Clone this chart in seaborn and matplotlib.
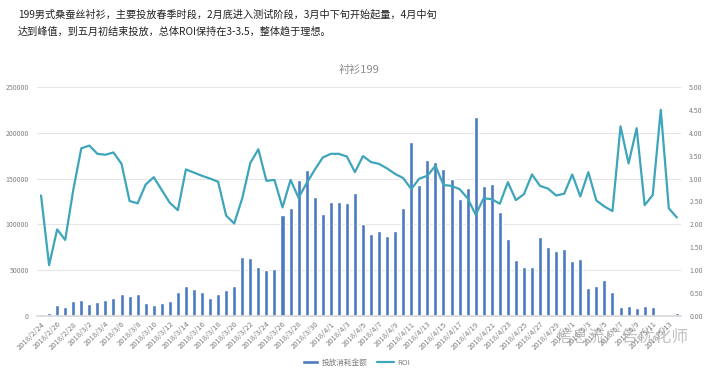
import numpy as np
import pandas as pd
import matplotlib
matplotlib.use('Agg')
import matplotlib.pyplot as plt
import seaborn as sns
from matplotlib.ticker import FuncFormatter

# 数据：2018/2/24 ~ 2018/5/14 每日投放消耗与ROI
dates = pd.date_range('2018-02-24', '2018-05-14', freq='D')
date_labels = [f'{d.year}/{d.month}/{d.day}' for d in dates]

spend = [2200, 3600, 11600, 9500, 16700, 17500, 13500, 15300, 17500, 20000,
         24000, 21500, 23700, 14600, 12400, 14200, 16400, 25800, 32800, 29800,
         26200, 20000, 24000, 28700, 33100, 64400, 63700, 53100, 49900, 51700,
         110300, 117500, 148500, 159400, 130300, 111000, 124500, 124500, 123000, 134600,
         100100, 89500, 92800, 87000, 92800, 118300, 190300, 142600, 170700, 168500,
         160500, 149600, 127400, 139700, 216900, 141600, 144100, 113900, 83700, 60800,
         53500, 53500, 86200, 75700, 70600, 73100, 60400, 61900, 30900, 33100,
         38900, 26600, 10200, 10600, 8700, 10600, 10200, 2200, 1800, 2900]

roi = [2.63, 1.11, 1.89, 1.66, 2.75, 3.66, 3.72, 3.54, 3.52, 3.57,
       3.32, 2.51, 2.46, 2.87, 3.03, 2.75, 2.47, 2.31, 3.20, 3.13,
       3.06, 3.00, 2.93, 2.19, 2.02, 2.57, 3.34, 3.64, 2.95, 2.97,
       2.37, 2.97, 2.58, 2.90, 3.19, 3.46, 3.54, 3.54, 3.48, 3.14,
       3.49, 3.36, 3.32, 3.22, 3.10, 3.01, 2.77, 3.00, 3.06, 3.28,
       2.86, 2.84, 2.77, 2.57, 2.21, 2.57, 2.55, 2.45, 2.92, 2.53,
       2.66, 3.09, 2.84, 2.78, 2.63, 2.67, 3.09, 2.61, 3.14, 2.52,
       2.39, 2.29, 4.14, 3.33, 4.10, 2.42, 2.64, 4.50, 2.35, 2.15]

df = pd.DataFrame({'日期': date_labels, '投放消耗金额': spend, 'ROI': roi})
df['idx'] = np.arange(len(df))

sns.set_theme(style='white')
plt.rcParams['font.family'] = ['Noto Sans CJK SC', 'DejaVu Sans']

fig = plt.figure(figsize=(7.19, 3.70), dpi=100)
ax = fig.add_axes([0.0515, 0.146, 0.8955, 0.619])

sns.barplot(data=df, x='idx', y='投放消耗金额', color='#4a7bbf', width=0.5,
            saturation=1, ax=ax, label='投放消耗金额')
ax.set_ylim(0, 250000)
ax.set_yticks(np.arange(0, 250001, 50000))
ax.yaxis.grid(True, color='#e6e6e6', linewidth=0.8)
ax.set_axisbelow(True)
ax.set_xlabel('')
ax.set_ylabel('')
ax.set_xticks(df['idx'][::2])
ax.set_xticklabels(df['日期'][::2], rotation=45, ha='right', rotation_mode='anchor')
ax.tick_params(axis='x', labelsize=5.5, colors='#7f7f7f', length=0, pad=3)
ax.tick_params(axis='y', labelsize=5, colors='#7f7f7f', length=0, pad=6)
ax.set_xlim(-0.5, len(df) - 0.5)
for s in ['top', 'right', 'left']:
    ax.spines[s].set_visible(False)
ax.spines['bottom'].set_color('#d9d9d9')

ax2 = ax.twinx()
sns.lineplot(data=df, x='idx', y='ROI', color='#3ea5bb', linewidth=1.6, ax=ax2, label='ROI')
ax2.set_ylim(0, 5)
ax2.set_yticks(np.arange(0, 5.01, 0.5))
ax2.yaxis.set_major_formatter(FuncFormatter(lambda v, p: f'{v:.2f}'))
ax2.tick_params(axis='y', labelsize=5, colors='#7f7f7f', length=0, pad=6)
ax2.set_ylabel('')
ax2.set_xlim(-0.5, len(df) - 0.5)
for s in ax2.spines.values():
    s.set_visible(False)

# 图例放到底部
h1, l1 = ax.get_legend_handles_labels()
h2, l2 = ax2.get_legend_handles_labels()
if ax.get_legend():
    ax.get_legend().remove()
if ax2.get_legend():
    ax2.get_legend().remove()
fig.legend(h1 + h2, l1 + l2, loc='center', bbox_to_anchor=(0.495, 0.02), ncol=2,
           frameon=False, fontsize=5.5, labelcolor='#7f7f7f',
           handlelength=2.2, handleheight=0.4, handletextpad=0.4, columnspacing=1.2)

fig.text(0.5, 0.81, '衬衫199', ha='center', va='center', fontsize=8, color='#8c8c8c')
fig.text(0.025, 0.962,
         '199男式桑蚕丝衬衫，主要投放春季时段，2月底进入测试阶段，3月中下旬开始起量，4月中旬',
         ha='left', va='center', fontsize=7.3, color='#222222')
fig.text(0.025, 0.913, '达到峰值，到五月初结束投放，总体ROI保持在3-3.5，整体趋于理想。',
         ha='left', va='center', fontsize=7.3, color='#222222')
fig.text(0.865, 0.086, '信息流广告优化师', ha='center', va='center', fontsize=12,
         color='#9a9a9a', alpha=0.6)

fig.savefig('out.png', dpi=100)
